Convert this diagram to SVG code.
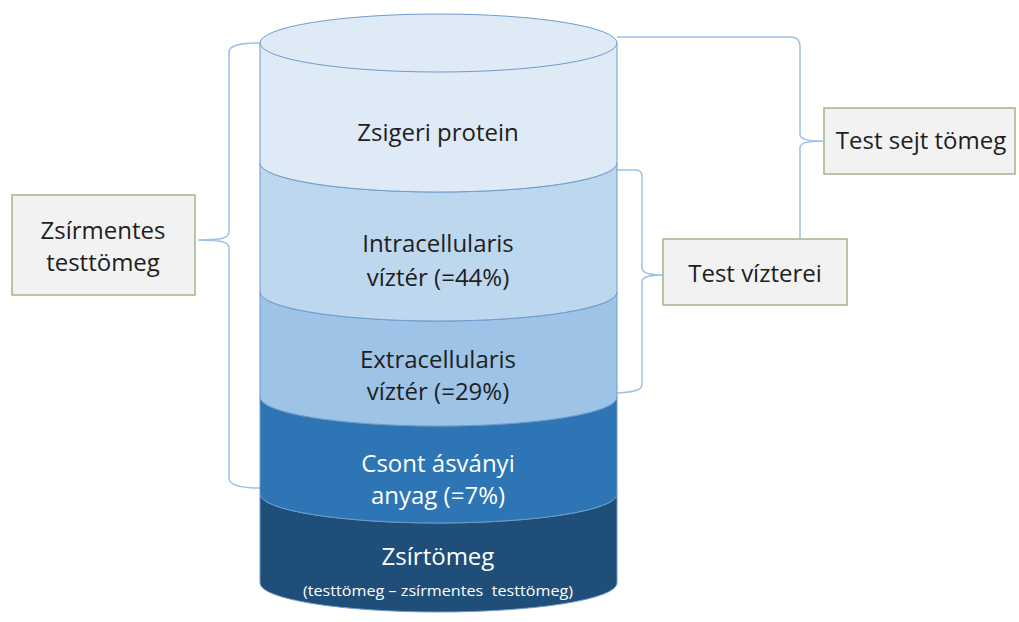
<svg xmlns="http://www.w3.org/2000/svg" width="1019" height="622" viewBox="0 0 1019 622">
<style>
.band{stroke:#6e9bcb;stroke-width:1}
.t{font-family:"Open Sans","Liberation Sans",sans-serif;font-size:24px;text-anchor:middle;fill:#1e1e1e}
.w{fill:#ffffff}
.box{fill:#f2f2f2;stroke:#a3b58c;stroke-width:1.5}
.br{fill:none;stroke:#9cc2e8;stroke-width:1.5}
</style>
<rect width="1019" height="622" fill="#ffffff"/>
<g id="connectors">
<path class="br" d="M260,43 C240,43 229,45 229,52 L229,232 C229,238 222,240 198,240 C222,240 229,242 229,248 L229,478 C229,485 240,488 260,488"/>
<path class="br" d="M617,37 L790,37 C797,37 800,40 800,46 L800,134 C800,139 806,141 823,141 C806,141 800,143 800,148 L800,250"/>
<path class="br" d="M617,170 L636,170 C640,170 642,172 642,177 L642,268 C642,272 648,275 663,275 C648,275 642,277 642,282 L642,384 C642,389 638,392 617,393"/>
</g>
<g id="cylinder">
<g id="zsirtomeg">
<path class="band" fill="#1f4e79" d="M260,494 A178.5,29 0 0 0 617,494 L617,583 A178.5,29 0 0 1 260,583 Z"/>
<text class="t w" x="438" y="565">Zsírtömeg</text>
<text class="t w" x="438" y="596" style="font-size:15px" textLength="270" lengthAdjust="spacingAndGlyphs" xml:space="preserve">(testtömeg – zsírmentes  testtömeg)</text>
</g>
<g id="csont">
<path class="band" fill="#2e75b6" d="M260,397 A178.5,29 0 0 0 617,397 L617,494 A178.5,29 0 0 1 260,494 Z"/>
<text class="t w" x="438" y="472">Csont ásványi</text>
<text class="t w" x="438" y="504">anyag (=7%)</text>
</g>
<g id="extracellularis">
<path class="band" fill="#9dc3e6" d="M260,292 A178.5,29 0 0 0 617,292 L617,397 A178.5,29 0 0 1 260,397 Z"/>
<text class="t" x="438" y="368">Extracellularis</text>
<text class="t" x="438" y="400">víztér (=29%)</text>
</g>
<g id="intracellularis">
<path class="band" fill="#bdd7ee" d="M260,163 A178.5,29 0 0 0 617,163 L617,292 A178.5,29 0 0 1 260,292 Z"/>
<text class="t" x="438" y="252">Intracellularis</text>
<text class="t" x="438" y="286">víztér (=44%)</text>
</g>
<g id="zsigeri">
<path class="band" fill="#deeaf6" d="M260,43 L260,163 A178.5,29 0 0 0 617,163 L617,43 Z"/>
<ellipse class="band" fill="#deeaf6" cx="438.5" cy="43" rx="178.5" ry="29"/>
<text class="t" x="438" y="141">Zsigeri protein</text>
</g>
</g>
<g id="zsirmentes">
<rect class="box" x="12" y="195" width="183" height="100"/>
<text class="t" x="103" y="239">Zsírmentes</text>
<text class="t" x="103" y="271">testtömeg</text>
</g>
<g id="sejttomeg">
<rect class="box" x="824" y="108" width="191" height="66"/>
<text class="t" x="921" y="149">Test sejt tömeg</text>
</g>
<g id="vizterei">
<rect class="box" x="663" y="239" width="184" height="66"/>
<text class="t" x="755" y="282">Test vízterei</text>
</g>
</svg>
